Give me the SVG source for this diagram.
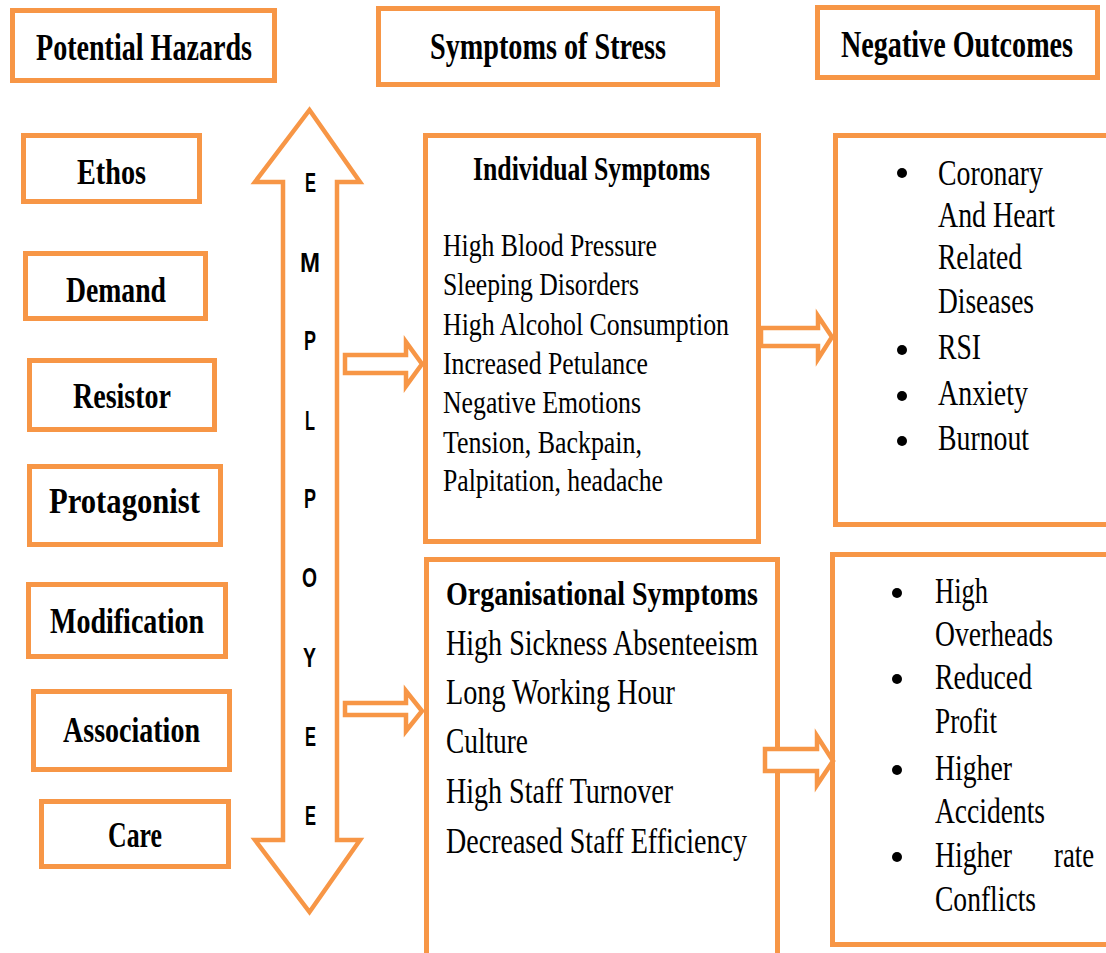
<svg xmlns="http://www.w3.org/2000/svg" width="1106" height="953" viewBox="0 0 1106 953">
<style>
.box{fill:#fff;stroke:#F79646;stroke-width:5}
.open{fill:none;stroke:#F79646;stroke-width:5}
.arr{fill:#fff;stroke:#F79646;stroke-width:4.5;stroke-linejoin:miter}
.hb{font-family:"Liberation Serif","Times New Roman",serif;font-weight:bold;font-size:38px;fill:#000}
.lb{font-family:"Liberation Serif","Times New Roman",serif;font-weight:bold;font-size:36px;fill:#000}
.tb{font-family:"Liberation Serif","Times New Roman",serif;font-weight:bold;font-size:33px;fill:#000}
.t{font-family:"Liberation Serif","Times New Roman",serif;font-size:32px;fill:#000}
.t2{font-family:"Liberation Serif","Times New Roman",serif;font-size:35px;fill:#000}
.emp{font-family:"Liberation Sans",Arial,sans-serif;font-weight:bold;font-size:28px;fill:#000}
.dot{fill:#000}
</style>
<rect width="1106" height="953" fill="#fff"/>

<g id="hdr-hazards">
<rect class="box" x="12.5" y="10.5" width="262" height="70"/>
<text class="hb" x="36" y="60" textLength="216" lengthAdjust="spacingAndGlyphs">Potential Hazards</text>
</g>
<g id="hdr-symptoms">
<rect class="box" x="378.5" y="8.5" width="339" height="76"/>
<text class="hb" x="430" y="59" textLength="236" lengthAdjust="spacingAndGlyphs">Symptoms of Stress</text>
</g>
<g id="hdr-outcomes">
<rect class="box" x="817.5" y="7.5" width="280" height="70"/>
<text class="hb" x="841" y="57" textLength="232" lengthAdjust="spacingAndGlyphs">Negative Outcomes</text>
</g>

<g id="ethos"><rect class="box" x="23.5" y="135.5" width="176" height="66"/>
<text class="lb" x="77" y="184" textLength="69" lengthAdjust="spacingAndGlyphs">Ethos</text></g>
<g id="demand"><rect class="box" x="25.5" y="253.5" width="180" height="65"/>
<text class="lb" x="66" y="302" textLength="100" lengthAdjust="spacingAndGlyphs">Demand</text></g>
<g id="resistor"><rect class="box" x="29.5" y="360.5" width="185" height="69"/>
<text class="lb" x="73" y="408" textLength="98" lengthAdjust="spacingAndGlyphs">Resistor</text></g>
<g id="protagonist"><rect class="box" x="29.5" y="466.5" width="191" height="78"/>
<text class="lb" x="49" y="513" textLength="151" lengthAdjust="spacingAndGlyphs">Protagonist</text></g>
<g id="modification"><rect class="box" x="28.5" y="584.5" width="197" height="72"/>
<text class="lb" x="50" y="633" textLength="154" lengthAdjust="spacingAndGlyphs">Modification</text></g>
<g id="association"><rect class="box" x="33.5" y="691.5" width="196" height="78"/>
<text class="lb" x="63" y="742" textLength="137" lengthAdjust="spacingAndGlyphs">Association</text></g>
<g id="care"><rect class="box" x="41.5" y="801.5" width="187" height="65"/>
<text class="lb" x="108" y="847" textLength="54" lengthAdjust="spacingAndGlyphs">Care</text></g>

<g id="employee">
<polygon class="arr" stroke-width="5" points="309.5,110 360,182 337,182 337,840 360,840 309.5,912 255,840 283,840 283,182 255,182"/>
<text class="emp" x="305" y="192" textLength="11" lengthAdjust="spacingAndGlyphs">E</text>
<text class="emp" x="300" y="272" textLength="20" lengthAdjust="spacingAndGlyphs">M</text>
<text class="emp" x="304" y="350" textLength="12" lengthAdjust="spacingAndGlyphs">P</text>
<text class="emp" x="305" y="430" textLength="10" lengthAdjust="spacingAndGlyphs">L</text>
<text class="emp" x="304" y="508" textLength="12" lengthAdjust="spacingAndGlyphs">P</text>
<text class="emp" x="302" y="587" textLength="15" lengthAdjust="spacingAndGlyphs">O</text>
<text class="emp" x="303" y="667" textLength="13" lengthAdjust="spacingAndGlyphs">Y</text>
<text class="emp" x="305" y="746" textLength="11" lengthAdjust="spacingAndGlyphs">E</text>
<text class="emp" x="305" y="825" textLength="11" lengthAdjust="spacingAndGlyphs">E</text>
</g>

<g id="individual">
<rect class="box" x="425.5" y="135.5" width="333" height="406"/>
<text class="tb" x="473" y="180" textLength="237" lengthAdjust="spacingAndGlyphs">Individual Symptoms</text>
<text class="t" x="443" y="256" textLength="214" lengthAdjust="spacingAndGlyphs">High Blood Pressure</text>
<text class="t" x="443" y="295" textLength="196" lengthAdjust="spacingAndGlyphs">Sleeping Disorders</text>
<text class="t" x="443" y="335" textLength="286" lengthAdjust="spacingAndGlyphs">High Alcohol Consumption</text>
<text class="t" x="443" y="374" textLength="205" lengthAdjust="spacingAndGlyphs">Increased Petulance</text>
<text class="t" x="443" y="413" textLength="198" lengthAdjust="spacingAndGlyphs">Negative Emotions</text>
<text class="t" x="443" y="453" textLength="199" lengthAdjust="spacingAndGlyphs">Tension, Backpain,</text>
<text class="t" x="443" y="491" textLength="220" lengthAdjust="spacingAndGlyphs">Palpitation, headache</text>
</g>

<g id="organisational">
<path class="open" d="M426.5,953 V559.5 H777.5 V953"/>
<text class="tb" x="446" y="605" font-size="35" textLength="312" lengthAdjust="spacingAndGlyphs">Organisational Symptoms</text>
<text class="t2" x="446" y="655" textLength="312" lengthAdjust="spacingAndGlyphs">High Sickness Absenteeism</text>
<text class="t2" x="446" y="704" textLength="229" lengthAdjust="spacingAndGlyphs">Long Working Hour</text>
<text class="t2" x="446" y="753" textLength="82" lengthAdjust="spacingAndGlyphs">Culture</text>
<text class="t2" x="446" y="803" textLength="227" lengthAdjust="spacingAndGlyphs">High Staff Turnover</text>
<text class="t2" x="446" y="853" textLength="301" lengthAdjust="spacingAndGlyphs">Decreased Staff Efficiency</text>
</g>

<g id="outcomes-individual">
<path class="open" d="M1108,135.5 H835.5 V524.5 H1108"/>
<circle class="dot" cx="902" cy="173" r="5"/>
<circle class="dot" cx="902" cy="350" r="5"/>
<circle class="dot" cx="902" cy="396" r="5"/>
<circle class="dot" cx="902" cy="441" r="5"/>
<text class="t2" x="938" y="185" textLength="105" lengthAdjust="spacingAndGlyphs">Coronary</text>
<text class="t2" x="938" y="227" textLength="117" lengthAdjust="spacingAndGlyphs">And Heart</text>
<text class="t2" x="938" y="269" textLength="84" lengthAdjust="spacingAndGlyphs">Related</text>
<text class="t2" x="938" y="313" textLength="96" lengthAdjust="spacingAndGlyphs">Diseases</text>
<text class="t2" x="938" y="359" textLength="43" lengthAdjust="spacingAndGlyphs">RSI</text>
<text class="t2" x="938" y="405" textLength="90" lengthAdjust="spacingAndGlyphs">Anxiety</text>
<text class="t2" x="938" y="450" textLength="91" lengthAdjust="spacingAndGlyphs">Burnout</text>
</g>

<g id="outcomes-organisational">
<path class="open" d="M1108,554.5 H832.5 V944.5 H1108"/>
<circle class="dot" cx="897" cy="593" r="5"/>
<circle class="dot" cx="897" cy="679" r="5"/>
<circle class="dot" cx="897" cy="770" r="5"/>
<circle class="dot" cx="897" cy="857" r="5"/>
<text class="t2" x="935" y="603" textLength="53" lengthAdjust="spacingAndGlyphs">High</text>
<text class="t2" x="935" y="646" textLength="118" lengthAdjust="spacingAndGlyphs">Overheads</text>
<text class="t2" x="935" y="689" textLength="97" lengthAdjust="spacingAndGlyphs">Reduced</text>
<text class="t2" x="935" y="733" textLength="62" lengthAdjust="spacingAndGlyphs">Profit</text>
<text class="t2" x="935" y="780" textLength="77" lengthAdjust="spacingAndGlyphs">Higher</text>
<text class="t2" x="935" y="823" textLength="110" lengthAdjust="spacingAndGlyphs">Accidents</text>
<text class="t2" x="935" y="867" textLength="77" lengthAdjust="spacingAndGlyphs">Higher</text>
<text class="t2" x="1054" y="867" textLength="40" lengthAdjust="spacingAndGlyphs">rate</text>
<text class="t2" x="935" y="911" textLength="101" lengthAdjust="spacingAndGlyphs">Conflicts</text>
</g>

<g id="connectors">
<polygon class="arr" points="345,355 406,355 406,342 422,364 406,386 406,373 345,373"/>
<polygon class="arr" points="345,703 406,703 406,691 422,711 406,731 406,715 345,715"/>
<polygon class="arr" points="761,328 818,328 818,316 832,337 818,359 818,346 761,346"/>
<polygon class="arr" points="765,749 817,749 817,736 833,761 817,785 817,771 765,771"/>
</g>
</svg>
